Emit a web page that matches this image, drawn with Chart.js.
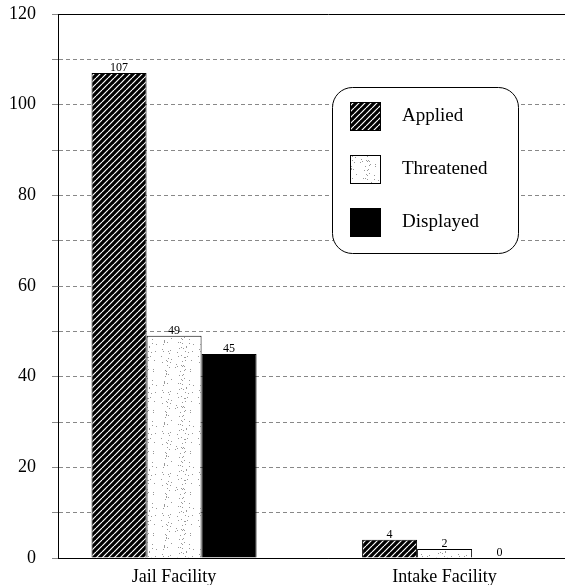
<!DOCTYPE html>
<html>
<head>
<meta charset="utf-8">
<script src="https://cdn.jsdelivr.net/npm/chart.js@4"></script>
<style>
  html, body { margin: 0; padding: 0; background: #fff; overflow: hidden; }
  #wrap { width: 565px; height: 585px; overflow: hidden; }
  #box { width: 600px; height: 585px; }
</style>
</head>
<body>
<div id="wrap"><div id="box"><canvas id="chart"></canvas></div></div>
<script>
// data
const facilities = ['Jail Facility', 'Intake Facility'];
const applied = [107, 4];
const threatened = [49, 2];
const displayed = [45, 0];
const seriesNames = ['Applied', 'Threatened', 'Displayed'];

const SERIF = '"Liberation Serif", "DejaVu Serif", serif';

// black with white diagonal stripes
function hatchPattern() {
    const c = document.createElement('canvas');
    c.width = 6; c.height = 6;
    const g = c.getContext('2d');
    g.fillStyle = '#000';
    g.fillRect(0, 0, 6, 6);
    g.strokeStyle = '#fff';
    g.lineWidth = 1.2;
    for (let k = -6; k <= 6; k += 6) {
        g.beginPath();
        g.moveTo(k, 6);
        g.lineTo(k + 6, 0);
        g.stroke();
    }
    return g.createPattern(c, 'repeat');
}

// white with scattered grey specks
function stipplePattern() {
    const c = document.createElement('canvas');
    c.width = 37; c.height = 41;
    const g = c.getContext('2d');
    g.fillStyle = '#fff';
    g.fillRect(0, 0, 37, 41);
    g.fillStyle = '#999';
    for (let i = 0; i < 70; i++) {
        const x = (i * 17 + (i * i) % 13) % 37;
        const y = (i * 29 + (i * i * 3) % 11) % 41;
        g.fillRect(x, y, 1, 1);
    }
    return g.createPattern(c, 'repeat');
}

const fills = [hatchPattern(), stipplePattern(), '#000'];

const valueLabels = {
    id: 'valueLabels',
    afterDatasetsDraw(chart) {
        const ctx = chart.ctx;
        ctx.save();
        ctx.font = '12px ' + SERIF;
        ctx.fillStyle = '#000';
        ctx.textAlign = 'center';
        ctx.textBaseline = 'bottom';
        chart.data.datasets.forEach((ds, i) => {
            chart.getDatasetMeta(i).data.forEach((bar, j) => {
                ctx.fillText(String(ds.data[j].y), bar.x, bar.y + 1);
            });
        });
        ctx.restore();
    }
};

const boxLegend = {
    id: 'boxLegend',
    afterDraw(chart) {
        const ctx = chart.ctx;
        const x = 332, y = 87, w = 186, h = 166;
        ctx.save();
        ctx.fillStyle = '#fff';
        ctx.strokeStyle = '#000';
        ctx.lineWidth = 1;
        ctx.beginPath();
        ctx.roundRect(x + 0.5, y + 0.5, w, h, 20);
        ctx.fill();
        ctx.stroke();
        ctx.font = '19px ' + SERIF;
        ctx.textBaseline = 'middle';
        ctx.textAlign = 'left';
        chart.data.datasets.forEach((ds, i) => {
            const sy = y + 15 + i * 53;
            ctx.fillStyle = ds.backgroundColor;
            ctx.fillRect(350, sy, 31, 29);
            ctx.strokeRect(350.5, sy + 0.5, 30, 28);
            ctx.fillStyle = '#000';
            ctx.fillText(ds.label, 402, sy + 14);
        });
        ctx.restore();
    }
};

const sets = [applied, threatened, displayed].map((vals, i) => ({
    label: seriesNames[i],
    data: vals.map((v, j) => ({ x: j, y: v })),
    backgroundColor: fills[i],
    borderColor: '#000',
    borderWidth: 1,
    borderSkipped: 'bottom',
    categoryPercentage: 0.61,
    barPercentage: 1
}));

new Chart(document.getElementById('chart'), {
    type: 'bar',
    data: { datasets: sets },
    options: {
        responsive: true,
        maintainAspectRatio: false,
        animation: false,
        layout: { padding: { top: 14, right: 2, left: 0, bottom: 0 } },
        plugins: {
            legend: { display: false },
            tooltip: { enabled: false }
        },
        scales: {
            x: {
                type: 'linear',
                min: -0.429,
                max: 1.567,
                offset: false,
                afterBuildTicks(s) { s.ticks = facilities.map((f, i) => ({ value: i })); },
                grid: { display: false },
                border: { color: '#000', width: 1 },
                ticks: {
                    color: '#000',
                    font: { family: SERIF, size: 18 },
                    padding: 0,
                    callback: v => facilities[v]
                },
                afterFit(s) { s.height = 27; }
            },
            y: {
                min: 0,
                max: 120,
                ticks: {
                    stepSize: 10,
                    color: '#000',
                    font: { family: SERIF, size: 18 },
                    padding: 16,
                    callback: v => (v % 20 === 0 ? v : '')
                },
                grid: {
                    color: c => (c.tick && (c.tick.value === 0 || c.tick.value === 120) ? '#000' : '#888'),
                    tickLength: 6,
                    tickColor: '#888'
                },
                border: {
                    color: '#000',
                    width: 1,
                    dash: c => (c.tick && (c.tick.value === 0 || c.tick.value === 120) ? [] : [4, 3])
                },
                afterFit(s) {
                    s.width = 58;
                    s.paddingTop = 0;
                    s.paddingBottom = 0;
                }
            }
        }
    },
    plugins: [valueLabels, boxLegend]
});
</script>
</body>
</html>
